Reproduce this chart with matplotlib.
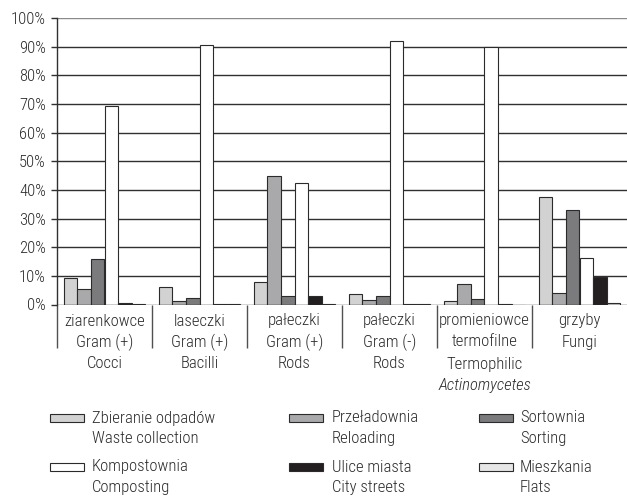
import matplotlib
matplotlib.use("Agg")
import matplotlib.pyplot as plt
import numpy as np
from matplotlib.patches import Rectangle

plt.rcParams['font.family'] = ['Roboto Condensed', 'Liberation Sans', 'DejaVu Sans']
plt.rcParams['font.weight'] = 'light'

categories = [
    ["ziarenkowce", "Gram (+)", "Cocci"],
    ["laseczki", "Gram (+)", "Bacilli"],
    ["pałeczki", "Gram (+)", "Rods"],
    ["pałeczki", "Gram (-)", "Rods"],
    ["promieniowce", "termofilne", "Termophilic", "Actinomycetes"],
    ["grzyby", "Fungi"],
]
series_names = [
    "Zbieranie odpadów\nWaste collection",
    "Przeładownia\nReloading",
    "Sortownia\nSorting",
    "Kompostownia\nComposting",
    "Ulice miasta\nCity streets",
    "Mieszkania\nFlats",
]
waste_collection = [9.1, 6.1, 7.9, 3.8, 1.1, 37.4]
reloading        = [5.3, 1.3, 44.9, 1.5, 7.2, 4.0]
sorting          = [15.8, 2.4, 3.0, 3.0, 2.0, 33.0]
composting       = [69.4, 90.6, 42.3, 91.9, 89.9, 16.1]
city_streets     = [0.4, 0.1, 3.1, 0.3, 0.2, 9.5]
flats            = [0.2, 0.2, 0.1, 0.1, 0.0, 0.4]
series_values = [waste_collection, reloading, sorting, composting, city_streets, flats]
colors = ["#d2d2d2", "#a9a9ab", "#7b7b7d", "#ffffff", "#231f20", "#e6e6e6"]
yticks = [0, 10, 20, 30, 40, 50, 60, 70, 80, 90, 100]
ytick_labels = [f"{v}%" for v in yticks]

W, H = 627, 496
FS = 12
fig = plt.figure(figsize=(W / 100, H / 100), dpi=100)
ax_l, ax_b, ax_t = 57 / W, 1 - 304.5 / H, 1 - 18 / H
ax = fig.add_axes([ax_l, ax_b, 1.0 - ax_l, ax_t - ax_b])

txtc = "#2b2b2b"
edge = "#2b2b2b"
n = len(series_values)
bw = 1 / (n + 1)
x = np.arange(len(categories))
for i, (vals, c) in enumerate(zip(series_values, colors)):
    ax.bar(x - 0.5 + bw / 2 + bw * (i + 0.5), vals, width=bw, color=c,
           edgecolor=edge, linewidth=0.8, zorder=3)

ax.set_xlim(-0.5, len(categories) - 0.5)
ax.set_ylim(0, 100)
ax.set_yticks(yticks)
ax.set_yticklabels(ytick_labels, fontsize=FS, color=txtc)
for v in yticks[1:-1]:
    ax.axhline(v, color="#303030", linewidth=1.0, zorder=1)
ax.axhline(100, color="#8a8a8a", linewidth=1.0, zorder=1)
ax.axhline(0, color="#303030", linewidth=1.0, zorder=4)

for s in ["top", "right", "bottom"]:
    ax.spines[s].set_visible(False)
ax.spines["left"].set_color("#303030")
ax.spines["left"].set_linewidth(1.0)
ax.tick_params(axis="y", length=4, width=1, color="#303030", pad=4)

# category separators as minor ticks
ax.set_xticks(np.arange(len(categories)) - 0.5, minor=True)
ax.set_xticks([])
ax.tick_params(axis="x", which="minor", length=31, width=1, color="#505050", direction="out")

axh = (ax_t - ax_b) * H
line_offsets = [16.5, 37.5, 59.5, 80.5]
trans = ax.get_xaxis_transform()
for i, lines in enumerate(categories):
    for j, t in enumerate(lines):
        style = "italic" if t == "Actinomycetes" else "normal"
        ax.text(i, -line_offsets[j] / axh, t, transform=trans, ha="center", va="center",
                fontsize=FS, color=txtc, style=style, clip_on=False)

# legend (manual, 3 columns x 2 rows)
patch_x = [50, 289, 479]
text_x = [92, 332, 520]
row_y = [418, 467]
order = [(0, 0), (0, 1), (0, 2), (1, 0), (1, 1), (1, 2)]
for k, (r, cidx) in enumerate(order):
    px, py = patch_x[cidx], row_y[r]
    fig.patches.append(Rectangle((px / W, 1 - (py + 4) / H), 34 / W, 8 / H,
                                 transform=fig.transFigure, facecolor=colors[k],
                                 edgecolor=edge, linewidth=0.8))
    l1, l2 = series_names[k].split("\n")
    fig.text(text_x[cidx] / W, 1 - py / H, l1, ha="left", va="center", fontsize=FS, color=txtc)
    fig.text(text_x[cidx] / W, 1 - (py + 20.5) / H, l2, ha="left", va="center", fontsize=FS, color=txtc)

fig.savefig("out.png", dpi=100)
